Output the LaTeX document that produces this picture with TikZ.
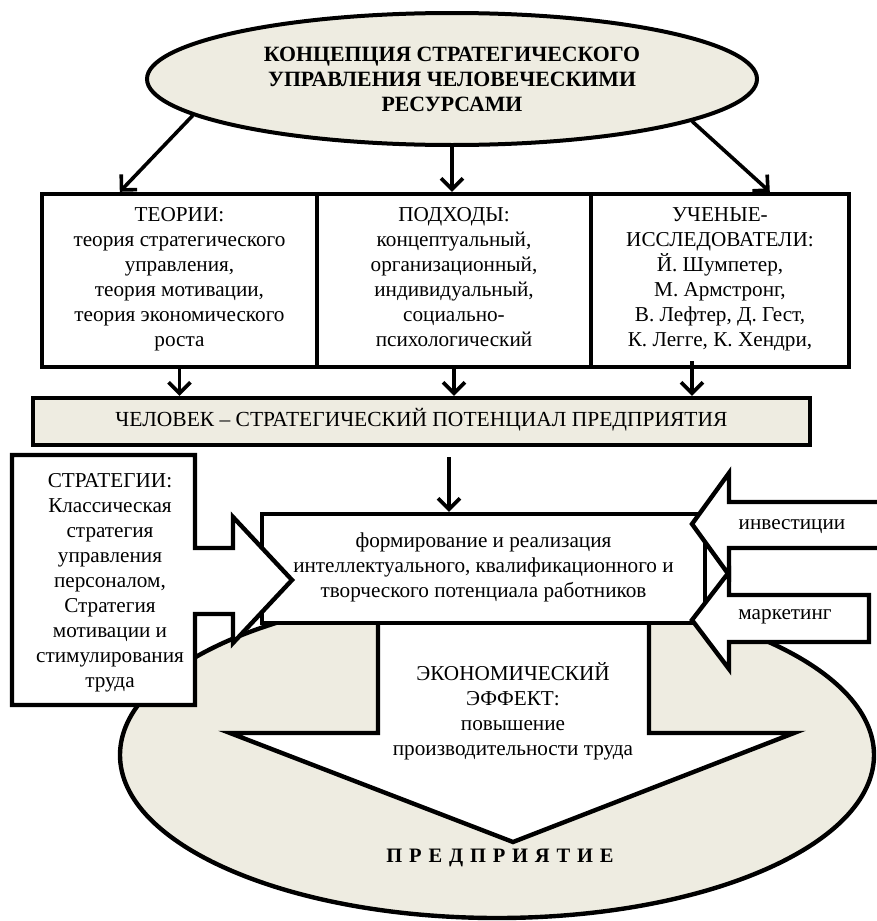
\documentclass[tikz,border=0pt]{standalone}
\usepackage{fontspec}
\setmainfont{Liberation Serif}
\usetikzlibrary{arrows.meta,shapes.geometric}
\definecolor{beigec}{RGB}{238,236,225}

\begin{document}
\begin{tikzpicture}[x=0.5pt,y=-0.5pt,
  font=\fontsize{10.6pt}{12.5pt}\selectfont,
  box/.style={draw,line width=2.2pt,fill=white,align=center,inner sep=1pt,
    execute at begin node=\strut,execute at end node=\strut},
  tanbox/.style={box,fill=beigec},
  blockarr/.style={draw,line width=2.2pt,fill=white,line join=miter},
  conn/.style={line width=1.8pt,-{Straight Barb[length=5.5pt,width=11pt]}},
  lbl/.style={align=center,inner sep=0pt}]
\useasboundingbox (0,0) rectangle (877,921);
% ---- TOP: concept ellipse and three boxes ----
\node[ellipse,draw,fill=beigec,line width=2pt,minimum width=305pt,minimum height=66pt,
  align=center,font=\fontsize{10.9pt}{12.5pt}\selectfont\bfseries] (title) at (452,79)
  {КОНЦЕПЦИЯ СТРАТЕГИЧЕСКОГО\\ УПРАВЛЕНИЯ ЧЕЛОВЕЧЕСКИМИ\\ РЕСУРСАМИ};
\node[box,minimum width=137.5pt,minimum height=86.5pt] (teorii) at (179.5,280.5)
  {ТЕОРИИ:\\ теория стратегического\\ управления,\\ теория мотивации,\\
   теория экономического\\ роста};
\node[box,minimum width=137pt,minimum height=86.5pt] (podhody) at (454,280.5)
  {ПОДХОДЫ:\\ концептуальный,\\ организационный,\\ индивидуальный,\\
   социально-\\ психологический};
\node[box,minimum width=129pt,minimum height=86.5pt] (uchenye) at (720,280.5)
  {УЧЕНЫЕ-\\ ИССЛЕДОВАТЕЛИ:\\ Й. Шумпетер,\\ М. Армстронг,\\
   В. Лефтер, Д. Гест,\\ К. Легге, К. Хендри,};
\draw[conn] (title.188) -- ([xshift=40pt]teorii.north west);
\draw[conn] (title.south) -- (title.south |- podhody.north);
\draw[conn] (title.350) -- ([xshift=90.5pt]uchenye.north west);
% ---- bar: human as potential ----
\node[tanbox,minimum width=388.5pt,minimum height=23.5pt,font=\fontsize{10.75pt}{12.5pt}\selectfont]
  (bar) at (421.5,421.5) {ЧЕЛОВЕК – СТРАТЕГИЧЕСКИЙ ПОТЕНЦИАЛ ПРЕДПРИЯТИЯ};
\draw[conn] (teorii.south) -- (teorii.south |- bar.north);
\draw[conn] (podhody.south) -- (podhody.south |- bar.north);
\draw[conn] ([xshift=-14pt,yshift=4pt]uchenye.south) -- ([xshift=-14pt]uchenye.south |- bar.north);
% ---- BOTTOM: enterprise ellipse and effect arrow ----
\draw[line width=2.2pt,fill=beigec] (497,755) ellipse [x radius=188.5pt,y radius=81.5pt];
\draw[blockarr] (378,600) -- (378,733) -- (230,733) -- (513,842) -- (794,733)
  -- (649,733) -- (649,600) -- cycle;
\node[lbl] (effekt) at (513,711)
  {ЭКОНОМИЧЕСКИЙ\\ ЭФФЕКТ:\\ повышение\\ производительности труда};
\node[lbl,font=\fontsize{10.25pt}{12.5pt}\selectfont\bfseries] (ent) at (500,858)
  {П\,\,Р\,\,Е\,\,Д\,\,П\,\,Р\,\,И\,\,Я\,\,Т\,\,И\,\,Е};
% ---- centre box ----
\node[box,minimum width=221.5pt,minimum height=54.5pt] (forma) at (483.5,568.5)
  {формирование и реализация\\ интеллектуального, квалификационного и\\
   творческого потенциала работников};
\draw[conn] ([xshift=-2.5pt,yshift=-5pt]podhody.south |- bar.south) -- ([xshift=-2.5pt]podhody.south |- forma.north);
% ---- LEFT: strategies box with arrow ----
\draw[blockarr] (12,455) -- (195,455) -- (195,548) -- (233,548) -- (233,517)
  -- (292,580) -- (233,643) -- (233,614) -- (195,614) -- (195,705) -- (12,705) -- cycle;
\node[lbl] (strat) at (110,583)
  {СТРАТЕГИИ:\\ Классическая\\ стратегия\\ управления\\ персоналом,\\ Стратегия\\
   мотивации и\\ стимулирования\\ труда};
% ---- RIGHT: investments and marketing ----
\draw[blockarr] (900,502) -- (729,502) -- (729,473) -- (692,524) -- (729,575)
  -- (729,548) -- (900,548) -- cycle;
\node[lbl] (inv) at (792,527) {инвестиции};
\draw[blockarr] (869,595) -- (729,595) -- (729,572) -- (692,620) -- (729,669)
  -- (729,642) -- (869,642) -- cycle;
\node[lbl] (mark) at (785,617) {маркетинг};
\end{tikzpicture}
\end{document}
